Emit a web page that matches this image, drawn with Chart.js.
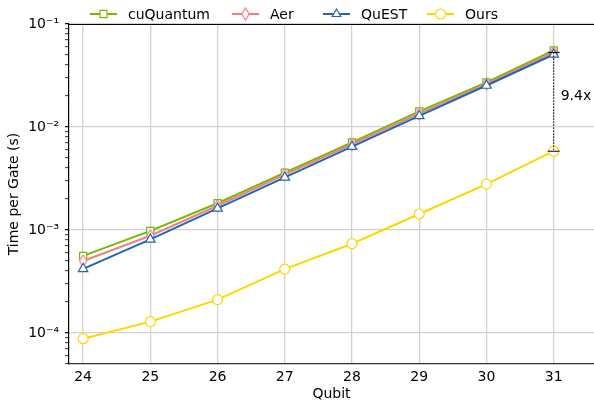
<!DOCTYPE html>
<html>
<head>
<meta charset="utf-8">
<script src="https://cdn.jsdelivr.net/npm/chart.js@4/dist/chart.umd.min.js"></script>
<style>
  html, body { margin: 0; padding: 0; background: #fff; }
  #wrap { width: 594px; height: 407px; }
</style>
</head>
<body>
<div id="wrap"><canvas id="gateChart" width="594" height="407"></canvas></div>
<script>
// data
const qubits = [24, 25, 26, 27, 28, 29, 30, 31];
const cuQuantumVals = [5.6e-4, 9.8e-4, 1.82e-3, 3.6e-3, 7.1e-3, 1.42e-2, 2.71e-2, 5.55e-2];
const aerVals = [5.0e-4, 8.8e-4, 1.72e-3, 3.45e-3, 6.8e-3, 1.35e-2, 2.62e-2, 5.3e-2];
const questVals = [4.2e-4, 8.1e-4, 1.62e-3, 3.24e-3, 6.45e-3, 1.28e-2, 2.53e-2, 5.06e-2];
const oursVals = [8.8e-5, 1.29e-4, 2.11e-4, 4.17e-4, 7.36e-4, 1.43e-3, 2.79e-3, 5.82e-3];
const speedupLabel = '9.4x';

const xTicks = [24, 25, 26, 27, 28, 29, 30, 31];
const yTickValues = [1e-4, 1e-3, 1e-2, 1e-1];
const yTickLabels = ['10⁻⁴', '10⁻³', '10⁻²', '10⁻¹'];

const FONT = 'DejaVu Sans';

function isDecade(v) {
  const l = Math.log10(v);
  return Math.abs(l - Math.round(l)) < 1e-9;
}

// thin diamond marker like matplotlib's 'd'
function thinDiamond(color) {
  const c = document.createElement('canvas');
  c.width = 11; c.height = 15;
  const g = c.getContext('2d');
  g.fillStyle = '#fff';
  g.strokeStyle = color;
  g.lineWidth = 1.2;
  g.beginPath();
  g.moveTo(5.5, 1.5);
  g.lineTo(9.2, 7.5);
  g.lineTo(5.5, 13.5);
  g.lineTo(1.8, 7.5);
  g.closePath();
  g.fill();
  g.stroke();
  return c;
}

function series(label, vals, color, style, order) {
  return {
    label: label,
    data: qubits.map((q, i) => ({ x: q, y: vals[i] })),
    borderColor: color,
    backgroundColor: '#ffffff',
    borderWidth: 2,
    pointStyle: style,
    pointRadius: style === 'triangle' ? 5.5 : 5,
    pointBorderWidth: 1.2,
    pointBorderColor: color,
    pointBackgroundColor: '#ffffff',
    order: order,
    clip: false
  };
}

// matplotlib-like legend: short line with marker in the middle
const lineLegend = {
  id: 'lineLegend',
  afterDraw(chart) {
    const ctx = chart.ctx;
    const lineX = [90, 232, 323, 427];
    const y = 14;
    chart.data.datasets.forEach((ds, i) => {
      const x0 = lineX[i], x1 = x0 + 27;
      ctx.save();
      ctx.strokeStyle = ds.borderColor;
      ctx.lineWidth = 2;
      ctx.beginPath();
      ctx.moveTo(x0, y);
      ctx.lineTo(x1, y);
      ctx.stroke();
      ctx.fillStyle = '#ffffff';
      ctx.lineWidth = 1.2;
      Chart.helpers.drawPoint(ctx, { pointStyle: ds.pointStyle, radius: 5, rotation: 0, borderWidth: 1.2 }, (x0 + x1) / 2, y);
      ctx.fillStyle = '#000';
      ctx.font = '14px "' + FONT + '"';
      ctx.textBaseline = 'middle';
      ctx.fillText(ds.label, x1 + 11, y + 1);
      ctx.restore();
    });
  }
};

// top spine + speedup annotation at the last point
const extras = {
  id: 'extras',
  afterDatasetsDraw(chart) {
    const ctx = chart.ctx;
    const xs = chart.scales.x, ys = chart.scales.y;
    const last = qubits.length - 1;
    const px = xs.getPixelForValue(qubits[last]);
    const yLow = ys.getPixelForValue(oursVals[last]);
    const yHigh = ys.getPixelForValue(aerVals[last]);
    ctx.save();
    ctx.strokeStyle = '#000';
    ctx.lineWidth = 1;
    ctx.setLineDash([1.5, 1.5]);
    ctx.beginPath();
    ctx.moveTo(px, yHigh);
    ctx.lineTo(px, yLow);
    ctx.stroke();
    ctx.setLineDash([]);
    ctx.beginPath();
    ctx.moveTo(px - 6, yHigh); ctx.lineTo(px + 6, yHigh);
    ctx.moveTo(px - 6, yLow); ctx.lineTo(px + 6, yLow);
    ctx.stroke();
    ctx.fillStyle = '#000';
    ctx.font = '14px "' + FONT + '"';
    ctx.textBaseline = 'middle';
    ctx.fillText(speedupLabel, px + 7, (yHigh + yLow) / 2 - 5);
    ctx.restore();
  },
  afterDraw(chart) {
    const ctx = chart.ctx;
    const a = chart.chartArea;
    ctx.save();
    ctx.strokeStyle = '#000';
    ctx.lineWidth = 1;
    ctx.beginPath();
    ctx.moveTo(a.left, a.top + 0.5);
    ctx.lineTo(a.right, a.top + 0.5);
    ctx.stroke();
    ctx.restore();
  }
};

const ctx = document.getElementById('gateChart').getContext('2d');
const myChart = new Chart(ctx, {
  type: 'line',
  data: {
    datasets: [
      series('cuQuantum', cuQuantumVals, '#76b900', 'rect', 4),
      series('Aer', aerVals, '#f08080', thinDiamond('#f08080'), 3),
      series('QuEST', questVals, '#2166b5', 'triangle', 2),
      series('Ours', oursVals, '#ffd700', 'circle', 1)
    ]
  },
  options: {
    responsive: false,
    animation: false,
    devicePixelRatio: 1,
    layout: { autoPadding: false, padding: { top: 24, right: 0, left: 0, bottom: 0 } },
    plugins: {
      legend: { display: false },
      tooltip: { enabled: false }
    },
    scales: {
      x: {
        type: 'linear',
        min: 23.79,
        max: 31.6,
        afterBuildTicks: (axis) => { axis.ticks = xTicks.map(v => ({ value: v })); },
        afterFit: (axis) => { axis.height = 43; axis.paddingLeft = 0; axis.paddingRight = 0; },
        ticks: {
          color: '#000',
          font: { family: FONT, size: 14 },
          padding: 5,
          callback: (v) => String(v)
        },
        grid: { color: '#d3d3d3', lineWidth: 1.3, drawTicks: false },
        border: { color: '#333', width: 1.2 },
        title: {
          display: true,
          text: 'Qubit',
          color: '#000',
          font: { family: FONT, size: 14 },
          padding: { top: 0, bottom: 4 }
        }
      },
      y: {
        type: 'logarithmic',
        min: 5e-5,
        max: 0.1,
        afterBuildTicks: (axis) => {
          const t = [];
          for (let e = -5; e <= -1; e++) {
            for (let m = 1; m <= 9; m++) {
              const v = m * Math.pow(10, e);
              if (v >= 5e-5 * 0.999 && v <= 0.1 * 1.001) t.push({ value: v });
            }
          }
          axis.ticks = t;
        },
        afterFit: (axis) => { axis.width = 69; axis.paddingTop = 0; axis.paddingBottom = 0; },
        ticks: {
          autoSkip: false,
          color: '#000',
          font: { family: FONT, size: 14 },
          padding: 6,
          callback: (v) => {
            for (let i = 0; i < yTickValues.length; i++) {
              if (Math.abs(Math.log10(v) - Math.log10(yTickValues[i])) < 1e-9) return yTickLabels[i];
            }
            return '';
          }
        },
        grid: {
          color: (c) => (c.tick && isDecade(c.tick.value) ? '#d3d3d3' : 'rgba(0,0,0,0)'),
          lineWidth: 1.3,
          drawTicks: true,
          tickLength: 4,
          tickColor: '#000',
          tickWidth: (c) => (c.tick && isDecade(c.tick.value) ? 1.2 : 0.8)
        },
        border: { color: '#000', width: 1.2 },
        title: {
          display: true,
          text: 'Time per Gate (s)',
          color: '#000',
          font: { family: FONT, size: 14 },
          padding: { top: 6, bottom: 0 }
        }
      }
    }
  },
  plugins: [lineLegend, extras]
});
</script>
</body>
</html>
